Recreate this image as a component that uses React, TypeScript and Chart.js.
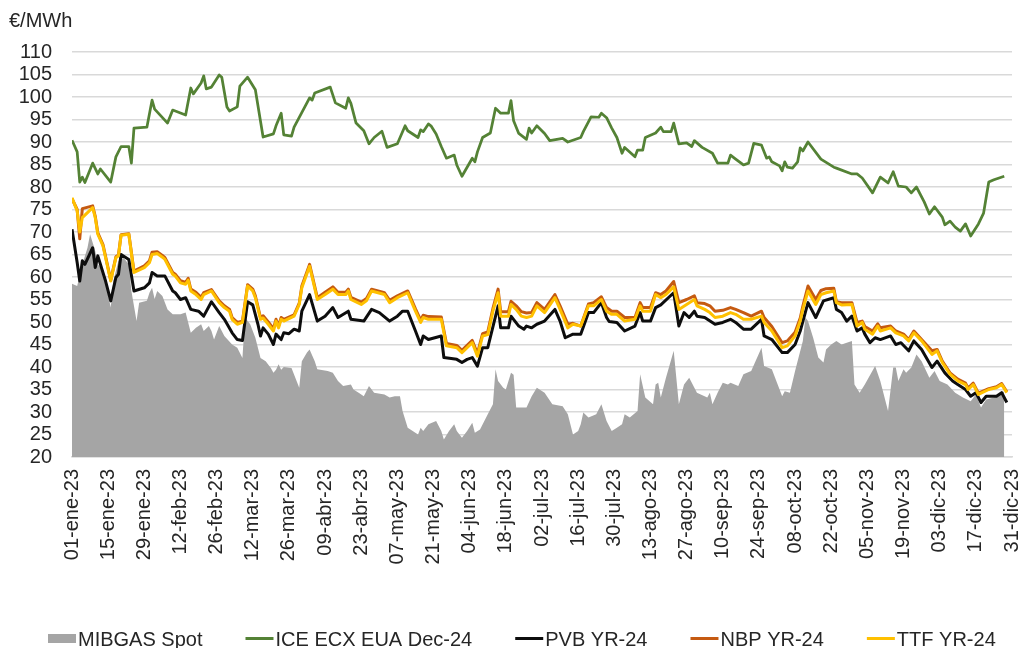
import React, { useEffect, useRef } from 'react';
import { Chart, registerables } from 'chart.js';

Chart.register(...registerables);

// ---------- DATA (day offsets from 01-ene-2023) ----------
const MONTHS = ['ene', 'feb', 'mar', 'abr', 'may', 'jun', 'jul', 'ago', 'sep', 'oct', 'nov', 'dic'];
const X_MIN = 0;
const X_MAX = 364;
const X_STEP = 14;
const Y_MIN = 20;
const Y_MAX = 110;
const Y_STEP = 5;

const seriesLabels = ['MIBGAS Spot', 'ICE ECX EUA Dec-24', 'PVB YR-24', 'NBP YR-24', 'TTF YR-24'];

const mibgasDays = [0, 2, 4, 6, 7, 9, 10, 12, 15, 16, 18, 20, 22, 23, 25, 26, 29, 30, 31, 32, 33, 35, 37, 39, 42, 44, 46, 48, 50, 51, 53, 54, 55, 57, 59, 62, 64, 66, 67, 69, 71, 73, 75, 77, 78, 79, 80, 81, 82, 85, 88, 89, 91, 92, 94, 95, 99, 101, 103, 105, 108, 109, 111, 113, 115, 117, 121, 123, 125, 127, 128, 130, 134, 135, 136, 138, 141, 143, 144, 146, 148, 149, 151, 153, 155, 156, 158, 161, 163, 164, 165, 167, 168, 170, 171, 172, 176, 178, 180, 183, 186, 190, 192, 194, 196, 197, 198, 200, 203, 205, 207, 209, 211, 213, 214, 216, 219, 220, 222, 225, 226, 227, 228, 230, 233, 235, 237, 239, 241, 242, 246, 247, 248, 250, 252, 254, 255, 258, 260, 263, 267, 268, 271, 273, 275, 276, 278, 280, 283, 284, 285, 287, 289, 291, 292, 294, 296, 298, 302, 303, 305, 307, 311, 313, 316, 318, 319, 320, 322, 323, 325, 327, 329, 332, 334, 336, 339, 342, 345, 348, 350, 352, 354, 357, 359, 361];
const mibgasValues = [58.5, 58, 62.8, 66.5, 69.5, 65.8, 62.8, 61.7, 53.2, 59.1, 63.6, 64.3, 62.8, 56.9, 50.2, 54.3, 54.7, 56.5, 57.6, 55.1, 56.9, 55.8, 52.8, 51.7, 51.7, 52.1, 47.6, 48.7, 49.5, 48, 49.1, 48, 46.1, 49.1, 46.9, 45, 44.3, 42, 51, 49.5, 46.5, 42, 41.3, 39.8, 38.7, 39.4, 40.6, 39.4, 40, 39.8, 35.4, 41.3, 43.2, 43.9, 41.3, 39.5, 39.1, 38.7, 36.9, 35.8, 36.1, 35, 34.3, 33.5, 35.8, 34.3, 33.9, 33.2, 33.5, 33.5, 30.2, 26.5, 25, 26.5, 25.8, 27.3, 28, 25.8, 23.9, 25.8, 27.3, 25.8, 24.3, 25.8, 27.6, 25.4, 26.1, 29.5, 31.7, 39.5, 36.9, 35.4, 35, 38.7, 38.3, 31, 31, 33.5, 35.4, 34.3, 31.7, 31.3, 29.5, 25, 25.8, 27.3, 29.9, 28.8, 29.5, 31.7, 28, 25.8, 26.5, 27.3, 29.5, 28.8, 30.2, 38.4, 33.2, 31.7, 36.1, 36.5, 33.2, 37.6, 43.6, 31.7, 36.1, 37.6, 35.4, 34.3, 33.2, 34.3, 31.7, 34.3, 36.5, 36.1, 36.5, 35.8, 38.4, 39.1, 44.3, 40.2, 39.5, 36.5, 33.5, 34.6, 34.3, 39.1, 45.8, 51, 50.2, 46.5, 42.1, 41, 43.9, 45, 45.8, 45, 45.8, 36.1, 34.3, 36.1, 40.2, 36.9, 30.2, 39.9, 39.9, 36.9, 39.5, 38.7, 39.9, 42.8, 41.3, 37.6, 39.1, 36.9, 36.1, 34.3, 33.2, 32.4, 33.9, 31, 32.8, 33.2, 33.9, 34.6];

const euaDays = [0, 2, 3, 4, 5, 8, 10, 11, 15, 17, 19, 22, 23, 24, 29, 31, 32, 37, 39, 44, 46, 47, 50, 51, 52, 54, 57, 58, 60, 61, 64, 65, 68, 71, 74, 78, 79, 81, 82, 85, 86, 92, 93, 94, 100, 102, 106, 107, 108, 110, 113, 115, 117, 120, 122, 126, 129, 130, 134, 135, 136, 138, 139, 141, 143, 145, 148, 149, 151, 155, 156, 157, 159, 162, 164, 166, 169, 170, 171, 173, 176, 177, 178, 180, 183, 185, 190, 192, 197, 198, 201, 204, 205, 207, 209, 211, 213, 214, 218, 219, 221, 222, 226, 228, 229, 232, 233, 235, 238, 240, 241, 244, 248, 250, 254, 255, 257, 260, 262, 264, 267, 269, 270, 271, 274, 275, 276, 277, 279, 281, 282, 283, 285, 290, 295, 296, 302, 304, 306, 310, 313, 316, 318, 320, 323, 325, 327, 330, 332, 334, 337, 338, 340, 342, 344, 346, 348, 351, 353, 355, 357, 361];
const euaValues = [90.4, 87.8, 81.1, 82.2, 81, 85.3, 82.9, 84, 81.1, 86.7, 89, 89, 85.3, 93.1, 93.3, 99.3, 97.3, 94.2, 97.1, 96, 102, 100.7, 103.1, 104.7, 101.8, 102.2, 104.9, 104.4, 97.8, 96.9, 97.8, 102.4, 104.4, 101.6, 91.1, 91.8, 93.6, 96.4, 91.6, 91.3, 93.3, 99.8, 99.3, 100.9, 102.2, 98.7, 97.5, 99.8, 98.6, 94.2, 92.5, 89.6, 91, 92.4, 88.8, 89.6, 93.6, 92.5, 91, 92.7, 92.3, 94, 93.6, 91.8, 89, 86.4, 87.1, 84.9, 82.4, 86.4, 85.6, 87.8, 91, 92, 97.5, 96.4, 96.4, 99.2, 94.7, 91.9, 90.6, 93.1, 92, 93.6, 91.9, 90.3, 90.8, 90, 91, 92.3, 95.6, 95.5, 96.4, 95.4, 93.1, 91, 87.5, 88.8, 86.7, 88.2, 88.2, 91, 92, 93.3, 92.3, 92.3, 94.2, 89.6, 89.8, 89, 90.3, 88.8, 87.5, 85.3, 85.3, 87.1, 86.2, 84.9, 85.3, 89.7, 89.3, 86.4, 86.7, 85.6, 84.7, 83.6, 85.6, 84.4, 84.2, 85.6, 88.7, 88, 90, 86.2, 84.4, 84.2, 82.9, 82.9, 82, 78.7, 82.2, 80.9, 83.4, 80.2, 80, 78.7, 80, 76.7, 74, 75.6, 73.3, 71.6, 72.4, 71.1, 70.2, 71.8, 69.1, 71.8, 74.2, 81.1, 81.6, 82.4];

const pvbDays = [0, 2, 3, 4, 5, 8, 9, 10, 13, 15, 17, 18, 19, 22, 24, 28, 30, 31, 33, 36, 39, 40, 42, 44, 46, 49, 51, 54, 57, 59, 62, 64, 66, 68, 70, 72, 73, 74, 76, 78, 79, 81, 82, 84, 86, 88, 89, 92, 95, 98, 101, 103, 107, 108, 113, 116, 119, 123, 126, 128, 130, 133, 135, 136, 138, 143, 144, 149, 151, 153, 155, 157, 159, 161, 165, 166, 169, 170, 173, 175, 176, 178, 180, 183, 187, 189, 191, 194, 197, 200, 202, 205, 207, 208, 211, 214, 218, 220, 221, 224, 226, 228, 233, 235, 237, 239, 241, 242, 245, 249, 252, 255, 257, 260, 263, 267, 268, 271, 275, 277, 280, 282, 285, 288, 291, 295, 296, 298, 300, 302, 304, 306, 307, 309, 311, 313, 317, 319, 321, 324, 326, 329, 333, 335, 338, 341, 343, 346, 348, 350, 352, 354, 358, 360, 362];
const pvbValues = [70.6, 63.2, 59.1, 63.6, 62.8, 66.5, 62.1, 64.7, 59.1, 54.7, 59.9, 60.6, 65, 63.9, 56.9, 57.6, 58.7, 61, 60.2, 60.2, 56.9, 56.5, 55, 55.4, 52.8, 52.4, 51.3, 54.5, 52.1, 50.6, 47.6, 46.1, 45.9, 54.5, 53.8, 49.5, 46.9, 48.7, 47.3, 45, 47.3, 46.1, 47.6, 47.4, 48.4, 48, 52.4, 56.1, 50.2, 51.3, 53.2, 51, 52.4, 50.6, 50.2, 52.8, 52.1, 50.2, 51.3, 52.4, 52.4, 48, 45, 46.9, 46.1, 46.9, 42.1, 41.7, 41, 41.7, 42.1, 40.2, 44.3, 44.3, 53.6, 48.7, 48.7, 51.3, 49.1, 48.4, 49.1, 48.7, 49.5, 50.2, 52.8, 50.2, 46.5, 47.3, 47.3, 52.1, 52.1, 54.3, 51, 50.1, 49.9, 48, 49.1, 52.1, 50.2, 50.2, 53.2, 53.8, 56.5, 49.1, 52.1, 51, 52.4, 51.3, 51, 49.5, 49.9, 50.6, 49.9, 48.4, 48.4, 50.6, 46.9, 46.1, 43.2, 43.2, 45, 48, 54.3, 51, 54.7, 55.4, 52.8, 52.1, 50.2, 51.3, 48, 48.7, 47.3, 45.4, 46.5, 46.1, 46.9, 45, 45.4, 43.6, 45.8, 43.9, 39.9, 41.3, 38.7, 36.9, 36.1, 35, 33.5, 34.3, 32.1, 33.5, 33.5, 34.3, 32.1];

const gasDays = [0, 2, 3, 4, 8, 9, 10, 12, 15, 17, 18, 19, 22, 24, 28, 30, 31, 33, 35, 36, 39, 40, 42, 44, 45, 46, 48, 50, 51, 54, 57, 59, 61, 62, 64, 66, 68, 70, 71, 73, 74, 76, 78, 79, 80, 81, 82, 86, 88, 89, 92, 95, 98, 101, 103, 106, 107, 108, 112, 114, 116, 121, 123, 126, 130, 133, 135, 136, 138, 143, 145, 149, 151, 153, 155, 157, 159, 161, 163, 165, 166, 169, 170, 172, 174, 176, 178, 180, 183, 187, 189, 192, 194, 197, 200, 202, 205, 207, 209, 211, 214, 218, 220, 221, 224, 226, 228, 230, 233, 235, 238, 241, 242, 245, 247, 249, 252, 255, 257, 260, 263, 267, 268, 271, 275, 277, 280, 282, 283, 285, 288, 290, 292, 295, 296, 298, 302, 304, 306, 307, 310, 312, 313, 317, 319, 322, 324, 326, 329, 333, 335, 337, 340, 343, 346, 347, 349, 351, 355, 358, 360, 362];
const ttfValues = [77.6, 74.7, 70, 73.2, 75.4, 73.2, 69.5, 66.9, 59.1, 64.3, 64.7, 69.3, 69.5, 61, 62.1, 63.2, 65, 65.2, 64.4, 63.9, 60.6, 60.2, 58.7, 58.4, 59.3, 56.9, 56.1, 55, 56.1, 56.9, 54.3, 53.2, 52.4, 50.6, 49.5, 49.9, 58, 56.9, 55.4, 50.6, 50.9, 49.5, 48, 50.2, 48.7, 50.6, 50.2, 51.3, 53.9, 57.6, 62.4, 55, 56.1, 57.3, 56.1, 56.1, 56.9, 55, 53.9, 54.7, 56.9, 56.1, 54.3, 55.4, 56.5, 52.4, 49.9, 51, 50.6, 50.6, 44.7, 44.3, 43.2, 44.3, 45.4, 42.4, 46.9, 47.2, 52.4, 56.5, 51.3, 51.3, 53.9, 52.8, 51.3, 51, 51.3, 53.6, 52.1, 55.4, 52.8, 48.7, 49.5, 49.1, 53.6, 53.6, 55, 52.4, 51.7, 51.7, 50.2, 50.6, 53.6, 52.4, 52.4, 56.1, 55.4, 56.1, 57.8, 52.8, 53.9, 55, 53.6, 52.8, 52.1, 51, 51.3, 52.1, 51.7, 50.6, 50.6, 51.3, 49.9, 48, 44.3, 44.7, 46.9, 50.2, 52.8, 56.9, 53.9, 56.1, 56.5, 56.9, 54.3, 53.8, 53.9, 49.1, 49.9, 48.4, 47.3, 49.1, 48, 48.7, 47.6, 46.9, 45.8, 47.6, 45.8, 42.8, 43.6, 41, 38.4, 36.9, 36.1, 35, 36.1, 33.9, 35, 35.4, 36.1, 34.3];
const nbpValues = [77.4, 75, 68.5, 75.2, 75.8, 73.5, 69.8, 67.2, 59.3, 64.5, 64.9, 69.4, 69.6, 61.3, 62.5, 63.6, 65.5, 65.6, 64.8, 64.3, 61, 60.6, 59.2, 58.8, 59.7, 57.3, 56.6, 55.5, 56.5, 57.2, 54.7, 53.6, 52.8, 51, 49.9, 50.2, 58.3, 57.3, 55.8, 51, 51.4, 50, 48.5, 50.6, 49.1, 51, 50.6, 51.6, 54.2, 58, 62.8, 55.4, 56.6, 57.8, 56.6, 56.6, 57.3, 55.5, 54.4, 55.2, 57.3, 56.5, 54.8, 55.8, 56.9, 52.9, 50.4, 51.5, 51.2, 51.1, 45.2, 44.8, 43.7, 44.8, 45.9, 43, 47.4, 47.8, 53, 57.3, 52.3, 52.3, 54.6, 53.6, 52.3, 52, 52.1, 54.3, 52.8, 56.1, 53.6, 49.5, 49.7, 49.1, 54, 54.3, 55.6, 53.2, 52.4, 52.4, 51, 51, 54.3, 53.2, 53.2, 56.5, 56.1, 56.9, 59, 54.3, 55, 55.8, 54.3, 54.1, 53.6, 52.4, 52.6, 53.2, 52.8, 52.1, 51.3, 52.4, 51, 49, 45.4, 45.8, 47.7, 50.9, 53.5, 58, 55, 57, 57.4, 57.5, 54.5, 54.3, 54.3, 49.9, 50.2, 49, 48, 49.6, 48.7, 49.1, 48, 47.3, 46.1, 48, 46.1, 43.6, 43.9, 41.3, 38.7, 37.3, 36.4, 35.3, 36.4, 34.2, 35.2, 35.6, 36.3, 34.5];

// ---------- STYLE ----------
const FONT_FAMILY = '"Liberation Sans", Arial, Helvetica, sans-serif';
const FONT_SIZE = 20;
const TEXT_COLOR = '#262626';
const GRID_COLOR = '#d9d9d9';
const COLORS = {
  mibgas: '#a5a5a5',
  eua: '#548235',
  pvb: '#0d0d0d',
  nbp: '#c55a11',
  ttf: '#ffc000',
};

function fmtDay(d: number): string {
  const dt = new Date(Date.UTC(2023, 0, 1 + Math.round(d)));
  const dd = String(dt.getUTCDate()).padStart(2, '0');
  const yy = String(dt.getUTCFullYear()).slice(2);
  return `${dd}-${MONTHS[dt.getUTCMonth()]}-${yy}`;
}

function pts(days: number[], vals: number[]) {
  return days.map((d, i) => ({ x: d, y: vals[i] }));
}

const legendItems = [
  { label: seriesLabels[0], kind: 'box', color: COLORS.mibgas },
  { label: seriesLabels[1], kind: 'line', color: COLORS.eua },
  { label: seriesLabels[2], kind: 'line', color: COLORS.pvb },
  { label: seriesLabels[3], kind: 'line', color: COLORS.nbp },
  { label: seriesLabels[4], kind: 'line', color: COLORS.ttf },
];

const decorPlugin = {
  id: 'decor',
  afterDraw(chart: any) {
    const ctx: CanvasRenderingContext2D = chart.ctx;
    ctx.save();
    ctx.font = `${FONT_SIZE}px ${FONT_FAMILY}`;
    ctx.fillStyle = TEXT_COLOR;
    ctx.textBaseline = 'alphabetic';
    ctx.textAlign = 'left';
    // unit title
    ctx.fillText('€/MWh', 9, 27);
    // legend
    const symW = 28;
    const gapSym = 2;
    const gapItem = 43;
    const cy = 638.5;
    let x = 48;
    for (const it of legendItems) {
      if (it.kind === 'box') {
        ctx.fillStyle = it.color;
        ctx.fillRect(x, cy - 4.5, symW, 9);
      } else {
        ctx.strokeStyle = it.color;
        ctx.lineWidth = 3;
        ctx.beginPath();
        ctx.moveTo(x, cy);
        ctx.lineTo(x + symW, cy);
        ctx.stroke();
      }
      x += symW + gapSym;
      ctx.fillStyle = TEXT_COLOR;
      ctx.fillText(it.label, x, cy + 7);
      x += ctx.measureText(it.label).width + gapItem;
    }
    ctx.restore();
  },
};

export default function App() {
  const ref = useRef<HTMLCanvasElement | null>(null);

  useEffect(() => {
    document.body.style.margin = '0';
    const canvas = ref.current;
    if (!canvas) return;
    Chart.defaults.font.family = FONT_FAMILY;
    Chart.defaults.font.size = FONT_SIZE;
    Chart.defaults.color = TEXT_COLOR;

    const chart = new Chart(canvas, {
      type: 'line',
      data: {
        datasets: [
          {
            label: seriesLabels[4],
            data: pts(gasDays, ttfValues),
            borderColor: COLORS.ttf,
            borderWidth: 3,
            order: 1,
          },
          {
            label: seriesLabels[3],
            data: pts(gasDays, nbpValues),
            borderColor: COLORS.nbp,
            borderWidth: 3,
            order: 2,
          },
          {
            label: seriesLabels[2],
            data: pts(pvbDays, pvbValues),
            borderColor: COLORS.pvb,
            borderWidth: 3,
            order: 3,
          },
          {
            label: seriesLabels[1],
            data: pts(euaDays, euaValues),
            borderColor: COLORS.eua,
            borderWidth: 2.75,
            order: 4,
          },
          {
            label: seriesLabels[0],
            data: pts(mibgasDays, mibgasValues),
            borderColor: COLORS.mibgas,
            backgroundColor: COLORS.mibgas,
            borderWidth: 0,
            fill: 'start',
            order: 5,
          },
        ],
      },
      options: {
        responsive: false,
        animation: false,
        devicePixelRatio: 1,
        layout: { padding: { left: 0, right: 9, top: 52, bottom: 0 }, autoPadding: false },
        elements: {
          point: { radius: 0, hoverRadius: 0 },
          line: { tension: 0, borderJoinStyle: 'round', borderCapStyle: 'butt' },
        },
        plugins: {
          legend: { display: false },
          tooltip: { enabled: false },
          title: { display: false },
        },
        scales: {
          x: {
            type: 'linear',
            min: X_MIN,
            max: X_MAX,
            grid: { display: false, drawTicks: false },
            border: { display: true, color: GRID_COLOR, width: 1.5 },
            ticks: {
              stepSize: X_STEP,
              autoSkip: false,
              maxTicksLimit: 100,
              maxRotation: 90,
              minRotation: 90,
              padding: 12,
              color: TEXT_COLOR,
              font: { size: FONT_SIZE },
              callback: (v: any) => fmtDay(Number(v)),
            },
            afterFit: (s: any) => {
              s.height = 191;
              s.paddingLeft = 0;
              s.paddingRight = 0;
            },
          },
          y: {
            min: Y_MIN,
            max: Y_MAX,
            grid: { color: GRID_COLOR, lineWidth: 1.5, drawTicks: false },
            border: { display: false },
            ticks: {
              stepSize: Y_STEP,
              autoSkip: false,
              maxTicksLimit: 100,
              padding: 20,
              color: TEXT_COLOR,
              font: { size: FONT_SIZE },
            },
            afterFit: (s: any) => {
              s.width = 72;
              s.paddingTop = 0;
              s.paddingBottom = 0;
            },
          },
        },
      },
      plugins: [decorPlugin],
    } as any);

    return () => {
      chart.destroy();
    };
  }, []);

  return (
    <div style={{ width: 1021, height: 648, overflow: 'hidden', background: '#fff' }}>
      <canvas ref={ref} width={1021} height={648} style={{ display: 'block', width: 1021, height: 648 }} />
    </div>
  );
}
